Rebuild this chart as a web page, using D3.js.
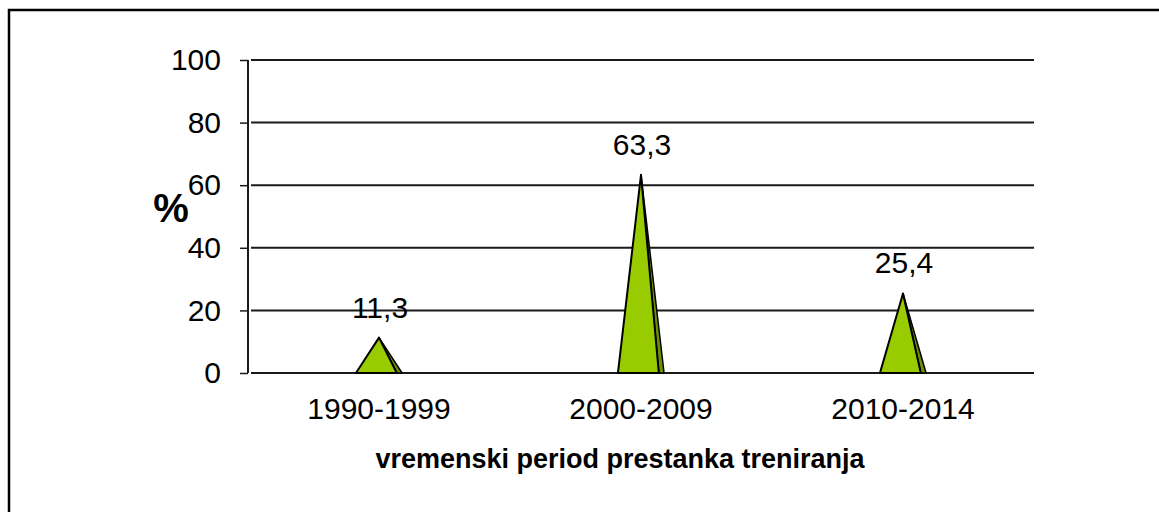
<!DOCTYPE html>
<html><head><meta charset="utf-8">
<script src="https://cdn.jsdelivr.net/npm/d3@7"></script>
<style>
html,body{margin:0;padding:0;background:#fff;}
svg{display:block;font-family:"Liberation Sans",Arial,sans-serif;}
</style></head>
<body>
<svg id="chart" width="1159" height="512"></svg>
<script>
const categories = ["1990-1999", "2000-2009", "2010-2014"];
const values = [11.3, 63.3, 25.4];
const valueLabels = ["11,3", "63,3", "25,4"];
const yTicks = [0, 20, 40, 60, 80, 100];
const xTitle = "vremenski period prestanka treniranja";
const yTitle = "%";

const svg = d3.select("#chart");
const W = 1159, H = 512;
const m = {left: 248, right: 1034, top: 60, bottom: 373};
const FS = 30;

// outer frame
svg.append("rect").attr("x", 9).attr("y", 10).attr("width", W + 10).attr("height", H + 10)
  .attr("fill", "none").attr("stroke", "#000").attr("stroke-width", 2.5);

const x = d3.scaleBand().domain(categories).range([m.left, m.right]);
const y = d3.scaleLinear().domain([0, 100]).range([m.bottom, m.top]);

// gridlines
svg.append("g").selectAll("line").data(yTicks).join("line")
  .attr("x1", m.left + 3).attr("x2", m.right)
  .attr("y1", d => y(d)).attr("y2", d => y(d))
  .attr("stroke", "#1a1a1a").attr("stroke-width", 2);

// y axis
const yAxis = svg.append("g").attr("transform", `translate(${m.left},0)`)
  .call(d3.axisLeft(y).tickValues(yTicks).tickSize(8).tickPadding(19));
yAxis.select(".domain").attr("stroke", "#1a1a1a").attr("stroke-width", 2).attr("d", `M0,${m.top}V${m.bottom}`);
yAxis.selectAll(".tick line").attr("stroke", "#1a1a1a").attr("stroke-width", 1.5);
yAxis.selectAll(".tick text").attr("font-size", FS).attr("fill", "#000")
  .attr("font-family", "Liberation Sans, Arial, sans-serif");

// x axis labels
const xAxis = svg.append("g").attr("transform", `translate(0,${m.bottom})`)
  .call(d3.axisBottom(x).tickSize(0).tickPadding(25));
xAxis.select(".domain").remove();
xAxis.selectAll(".tick text").attr("font-size", FS).attr("fill", "#000")
  .attr("font-family", "Liberation Sans, Arial, sans-serif");

// cone-like triangles
const halfW = x.bandwidth() * 0.088;
const sideW = x.bandwidth() * 0.02;
const g = svg.append("g");
categories.forEach((c, i) => {
  const cx = x(c) + x.bandwidth() / 2;
  const top = y(values[i]);
  const base = y(0);
  g.append("path")
    .attr("d", `M${cx},${top}L${cx + halfW},${base}L${cx + halfW - sideW},${base}Z`)
    .attr("fill", "#6f9100").attr("stroke", "#000").attr("stroke-width", 1.5).attr("stroke-linejoin", "round");
  g.append("path")
    .attr("d", `M${cx},${top}L${cx + halfW - sideW},${base}L${cx - halfW},${base}Z`)
    .attr("fill", "#99cc00").attr("stroke", "#000").attr("stroke-width", 2).attr("stroke-linejoin", "round");
  svg.append("text").attr("x", cx + 1).attr("y", top - 20)
    .attr("text-anchor", "middle").attr("font-size", FS).attr("fill", "#000")
    .text(valueLabels[i]);
});

// titles
svg.append("text").attr("x", 620).attr("y", 468)
  .attr("text-anchor", "middle").attr("font-size", 27).attr("font-weight", "bold").text(xTitle);
svg.append("text").attr("x", 171).attr("y", 222)
  .attr("text-anchor", "middle").attr("font-size", 40).attr("font-weight", "bold").text(yTitle);
</script>
</body></html>
